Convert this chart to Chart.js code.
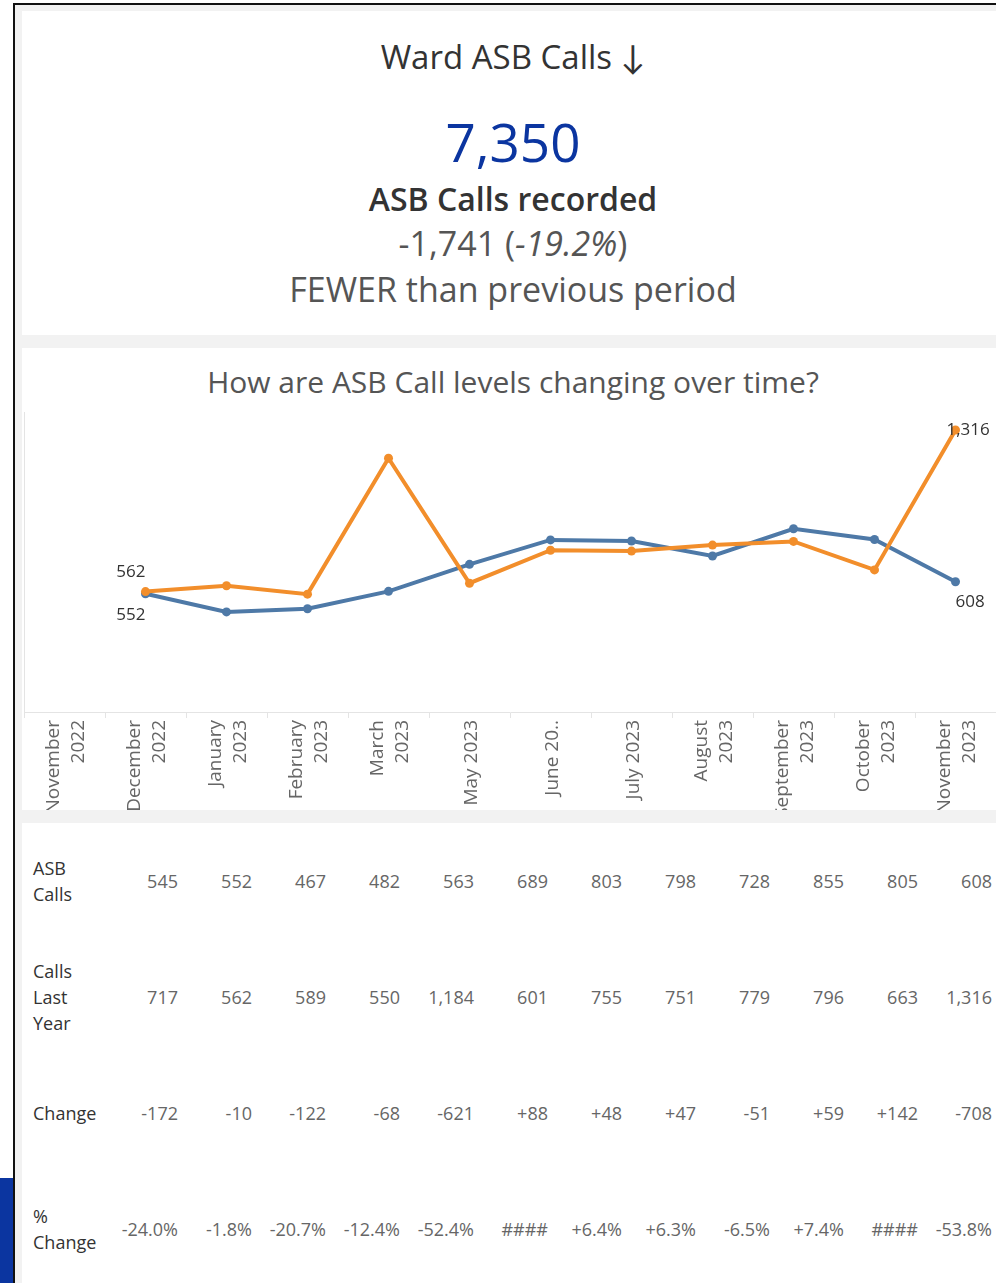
<!DOCTYPE html>
<html>
<head>
<meta charset="utf-8">
<script src="https://cdn.jsdelivr.net/npm/chart.js@4/dist/chart.umd.min.js"></script>
<style>
  html, body { margin: 0; padding: 0; background: #fff; overflow: hidden; }
  body { width: 996px; height: 1283px; position: relative; font-family: "Open Sans", "Lato", sans-serif; }
  .frame { position: absolute; left: 13px; top: 3px; width: 1000px; height: 1300px; border-left: 2px solid #111; border-top: 2px solid #111; background: #f2f2f2; }
  .sideblock { position: absolute; left: 0; top: 1178px; width: 13px; height: 105px; background: #0b35a0; }
  .panel { position: absolute; left: 22px; width: 982px; background: #fff; }
  .line { position: absolute; left: 0; width: 982px; text-align: center; white-space: nowrap; }
  #tableWrap { position: absolute; left: 22px; top: 823px; width: 974px; }
  table { border-collapse: collapse; table-layout: fixed; width: 970px; }
  td { height: 116px; padding: 0; vertical-align: middle; font-size: 18px; color: #666; text-align: right; }
  td.head { width: 71px; padding-left: 11px; text-align: left; color: #333; font-size: 18px; line-height: 26px; }
  td.val { width: 74px; }
</style>
</head>
<body>
<div class="frame"></div>
<div class="sideblock"></div>

<div class="panel" style="top:11px;height:324px;">
  <div class="line" style="top:25px;font-size:33px;line-height:42px;color:#333;">Ward ASB Calls ↓</div>
  <div class="line" style="top:99px;font-size:53px;line-height:64px;color:#0b35a0;">7,350</div>
  <div class="line" style="top:167px;font-size:32px;line-height:42px;color:#333;font-weight:600;">ASB Calls recorded</div>
  <div class="line" style="top:211px;font-size:34px;line-height:42px;color:#555;">-1,741 (<i>-19.2%</i>)</div>
  <div class="line" style="top:257px;font-size:34px;line-height:42px;color:#555;">FEWER than previous period</div>
</div>

<div class="panel" style="top:348px;height:462px;overflow:hidden;">
  <div class="line" style="top:16px;font-size:30px;line-height:36px;color:#555;">How are ASB Call levels changing over time?</div>
  <div style="position:absolute;left:0;top:52px;width:974px;height:410px;">
    <canvas id="trendChart" width="974" height="410"></canvas>
  </div>
</div>

<div class="panel" style="top:823px;height:470px;"></div>
<div id="tableWrap"><table id="callTable"></table></div>

<script>
// months on the axis (as shown, incl. the truncated June label)
const monthLabels = [
  ["November", "2022"], ["December", "2022"], ["January", "2023"], ["February", "2023"],
  ["March", "2023"], ["May 2023"], ["June 20.."], ["July 2023"], ["August", "2023"],
  ["September", "2023"], ["October", "2023"], ["November", "2023"]
];

const asbCalls = [545, 552, 467, 482, 563, 689, 803, 798, 728, 855, 805, 608];
const callsLastYear = [717, 562, 589, 550, 1184, 601, 755, 751, 779, 796, 663, 1316];
const changeLabels = ["-172", "-10", "-122", "-68", "-621", "+88", "+48", "+47", "-51", "+59", "+142", "-708"];
const pctChangeLabels = ["-24.0%", "-1.8%", "-20.7%", "-12.4%", "-52.4%", "####", "+6.4%", "+6.3%", "-6.5%", "+7.4%", "####", "-53.8%"];

// the line starts at the second month (first month has no point on the chart)
const firstPlotted = 1;

const BLUE = "#4e79a7";
const ORANGE = "#f28e2b";
const FONT = '"Open Sans", "Lato", sans-serif';

function fmt(n) {
  return n.toLocaleString("en-GB");
}

// table under the chart
const rows = [
  ["ASB<br>Calls", asbCalls.map(fmt)],
  ["Calls<br>Last<br>Year", callsLastYear.map(fmt)],
  ["Change", changeLabels],
  ["%<br>Change", pctChangeLabels],
];
const table = document.getElementById("callTable");
rows.forEach(([head, vals]) => {
  const tr = document.createElement("tr");
  tr.innerHTML = `<td class="head">${head}</td>` + vals.map((v) => `<td class="val">${v}</td>`).join("");
  table.appendChild(tr);
});

// labels next to first and last points
const endLabels = {
  id: "endLabels",
  afterDatasetsDraw(chart) {
    const ctx = chart.ctx;
    ctx.save();
    ctx.font = "17px " + FONT;
    ctx.fillStyle = "#333";
    ctx.textBaseline = "middle";
    const blue = chart.getDatasetMeta(1).data;
    const orange = chart.getDatasetMeta(0).data;
    const last = asbCalls.length - 1;
    const put = (pt, text, align, dx, dy) => {
      ctx.textAlign = align;
      ctx.fillText(text, pt.x + dx, pt.y + dy);
    };
    put(orange[firstPlotted], fmt(callsLastYear[firstPlotted]), "right", 0, -19);
    put(blue[firstPlotted], fmt(asbCalls[firstPlotted]), "right", 0, 21);
    put(orange[last], fmt(callsLastYear[last]), "left", -9, 0);
    put(blue[last], fmt(asbCalls[last]), "left", 0, 20);
    ctx.restore();
  },
};

// vertical month labels, centred on each tick (Chart.js puts line 1 on the tick)
const monthTicks = {
  id: "monthTicks",
  afterDraw(chart) {
    const scale = chart.scales.x;
    const ctx = chart.ctx;
    const lh = 25;
    ctx.save();
    ctx.font = "19px " + FONT;
    ctx.fillStyle = "#666";
    ctx.textAlign = "right";
    ctx.textBaseline = "middle";
    monthLabels.forEach((lines, i) => {
      const x = scale.getPixelForTick(i) + 2;
      ctx.save();
      ctx.translate(x, scale.top + 8);
      ctx.rotate(-Math.PI / 2);
      lines.forEach((txt, k) => {
        ctx.fillText(txt, 0, (k - (lines.length - 1) / 2) * lh);
      });
      ctx.restore();
    });
    ctx.restore();
  },
};

const ctx = document.getElementById("trendChart").getContext("2d");
new Chart(ctx, {
  type: "line",
  data: {
    labels: monthLabels.map((l) => l.join(" ")),
    datasets: [
      {
        label: "Calls Last Year",
        data: callsLastYear.map((v, i) => (i < firstPlotted ? null : v)),
        borderColor: ORANGE,
        backgroundColor: ORANGE,
        borderWidth: 4,
        pointRadius: 4.5,
        pointBorderWidth: 0,
        order: 0,
      },
      {
        label: "ASB Calls",
        data: asbCalls.map((v, i) => (i < firstPlotted ? null : v)),
        borderColor: BLUE,
        backgroundColor: BLUE,
        borderWidth: 4,
        pointRadius: 4.5,
        pointBorderWidth: 0,
        order: 1,
      },
    ],
  },
  options: {
    responsive: false,
    animation: false,
    layout: { autoPadding: false, padding: { top: 12, left: 0, right: 0, bottom: 0 } },
    plugins: {
      legend: { display: false },
      tooltip: { enabled: false },
    },
    scales: {
      x: {
        offset: true,
        grid: { offset: true, drawOnChartArea: false, drawTicks: true, tickLength: 6, color: "#e4e4e4" },
        border: { display: true, color: "#e4e4e4" },
        ticks: { display: false, autoSkip: false },
        afterFit(axis) {
          axis.height = 98;
        },
      },
      y: {
        min: 0,
        max: 1400,
        grid: { display: false, drawTicks: false },
        border: { display: true, color: "#e4e4e4" },
        ticks: { display: false },
        afterFit(axis) {
          axis.width = 2;
        },
      },
    },
  },
  plugins: [endLabels, monthTicks],
});
</script>
</body>
</html>
